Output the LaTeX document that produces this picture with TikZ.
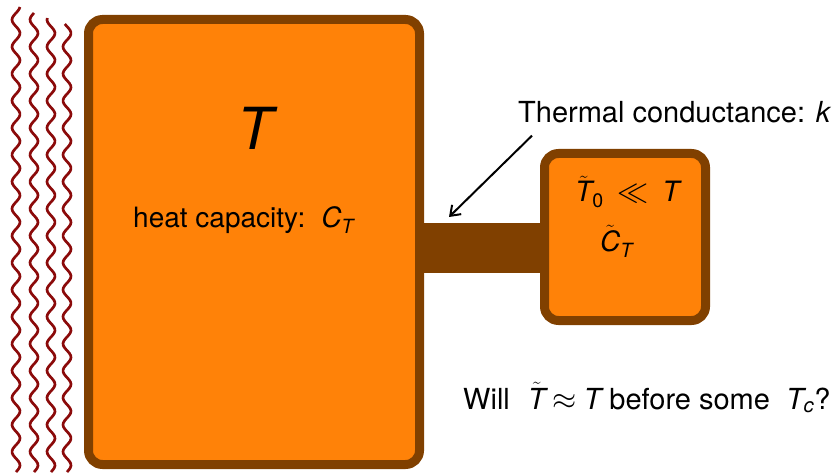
\documentclass[tikz,border=0pt]{standalone}
\usepackage{amsmath}
\usepackage{graphicx}
\usepackage{fontspec}
\setmainfont{TeX Gyre Heros}
\usepackage{tikz}
\usetikzlibrary{arrows.meta, positioning}
\definecolor{body}{HTML}{FF8208}
\definecolor{rim}{HTML}{804000}
\definecolor{heat}{HTML}{8B0A0A}
\newcommand{\bigrel}[1]{\mathrel{\scalebox{1.25}{$#1$}}}
\tikzset{
    block/.style={rectangle, rounded corners=14pt, draw=rim, fill=body, line width=9pt,
                  inner sep=0pt},
    lbl/.style={font=\fontsize{28}{32}\selectfont, inner sep=0pt, anchor=base west},
    wave/.style={draw=heat, line width=2.7pt, line join=round},
    arr/.style={-{Straight Barb[length=9pt, width=13pt]}, line width=2pt},
    link/.style={draw=rim, line width=50pt},
}

\begin{document}
\begin{tikzpicture}[x=1pt, y=1pt]
  \useasboundingbox (0,0) rectangle (836,472);

  % heat bath
  \foreach \xc/\ytop in {16/465, 34/459, 51/454, 67/448} {
    \draw[wave] plot[domain=0:\ytop, samples=220, variable=\t] ({\xc+4*sin((\t/27)*360)}, \t);
  }

  \node[block, minimum width=331pt, minimum height=445pt] (big) at (254,230) {};
  \node[block, minimum width=161pt, minimum height=167pt] (small) at (625,235) {};
  \draw[link] (big.east |- 0,224) -- (small.west |- 0,224);

  \node[lbl, anchor=base, font=\fontsize{58}{62}\selectfont] (tbig) at (258,322) {\textit{T}};
  \node[lbl] (cbig) at (133,244) {heat capacity:\hspace{16pt}$\textit{C}_{\textit{T}}$};

  \node[lbl] (tsmall) at (575,270) {$\tilde{\textit{T}}_{\textup{0}} \;\bigrel{\ll}\; \textit{T}$};
  \node[lbl] (csmall) at (600,220) {$\tilde{\textit{C}}_{\textit{T}}$};

  \node[lbl, font=\fontsize{29}{33}\selectfont] (cond) at (518,349) {Thermal conductance: \textit{k}};
  \coordinate (tip) at (449,255);
  \draw[arr] ([shift={(14pt,-12pt)}]cond.south west) -- (tip);

  \node[lbl, font=\fontsize{29}{33}\selectfont] (ask) at (463,63)
       {Will\hspace{18pt}$\tilde{\textit{T}} \bigrel{\approx} \textit{T}$ before some\hspace{16pt}$\textit{T}_{\textit{c}}$?};
\end{tikzpicture}
\end{document}
